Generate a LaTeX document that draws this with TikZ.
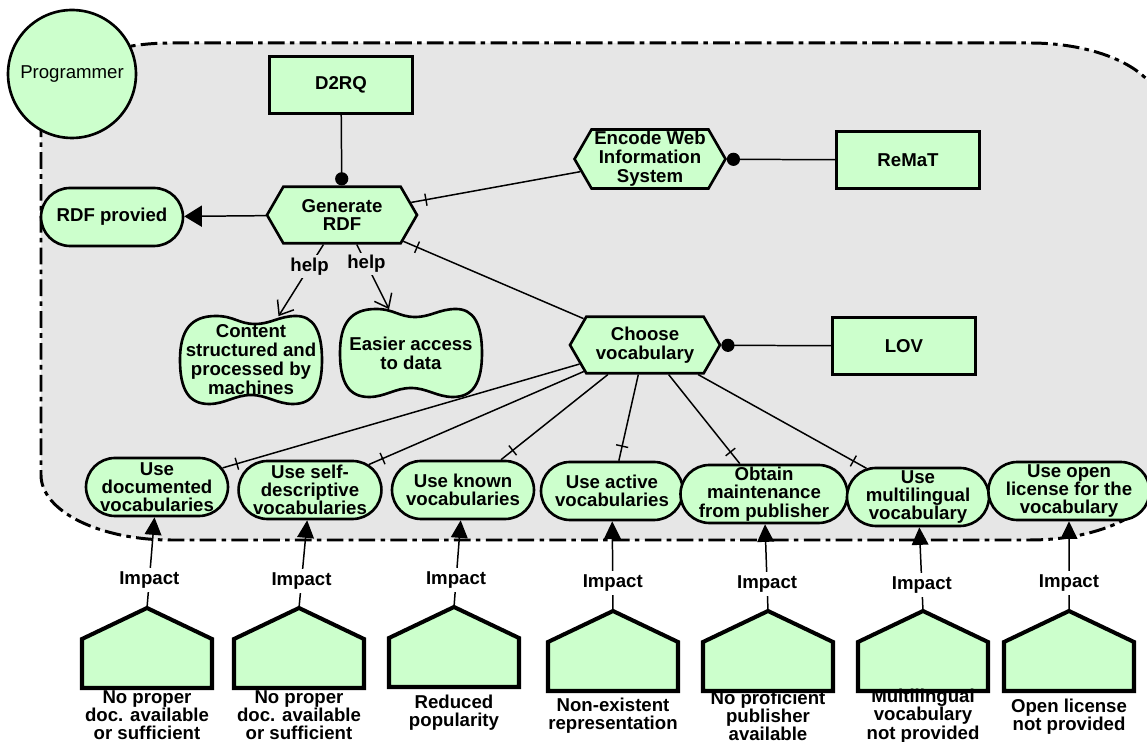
\documentclass[tikz,border=0pt]{standalone}
\usepackage{fontspec}
\setmainfont{Liberation Sans}
\usetikzlibrary{arrows.meta,shapes.misc,shapes.symbols,decorations.markings}
\definecolor{nodegreen}{RGB}{204,255,204}
\definecolor{regiongray}{RGB}{230,230,230}
\newcommand{\pentat}[2]{%
  \draw[pentsty, shift={(#2)}] (-65,80) -- (65,80) -- (65,31) -- (0,0) -- (-65,31) -- cycle;
  \coordinate (#1) at (#2);}
\newcommand{\blobat}[1]{%
  \draw[softsty, shift={(#1)}] (-71,0)
    .. controls (-71,-30) and (-60,-44) .. (-35,-44)
    .. controls (-17,-44) and (-12,-36) .. (4,-36)
    .. controls (20,-36) and (28,-44) .. (45,-44)
    .. controls (62,-44) and (71,-30) .. (71,0)
    .. controls (71,30) and (62,44) .. (42,44)
    .. controls (26,44) and (16,35) .. (0,35)
    .. controls (-16,35) and (-26,44) .. (-42,44)
    .. controls (-62,44) and (-71,30) .. (-71,0) -- cycle;}
\begin{document}
\begin{tikzpicture}[x=0.02cm,y=-0.02cm,
  txt/.style={font=\bfseries\fontsize{10.6}{10.8}\selectfont, align=center},
  boxsty/.style={draw, line width=1.5pt, fill=nodegreen, inner sep=0pt},
  resource/.style={boxsty, rectangle, minimum width=2.86cm, minimum height=1.14cm, txt},
  task/.style={boxsty, signal, signal to=west and east, signal pointer angle=120, minimum width=3cm, minimum height=1.13cm, txt},
  goal/.style={boxsty, rounded rectangle, minimum width=2.84cm, minimum height=1.16cm, font=\bfseries\fontsize{10.6}{10.4}\selectfont, align=center},
  softsty/.style={draw, line width=1.5pt, fill=nodegreen},
  softtext/.style={minimum width=2.84cm, minimum height=1.74cm, inner sep=0pt, txt},
  pentsty/.style={draw, line width=2.3pt, fill=nodegreen, line join=miter},
  pentlbl/.style={inner sep=0pt, font=\bfseries\fontsize{10.6}{10.4}\selectfont, align=center},
  conn/.style={line width=0.85pt},
  dotend/.style={conn, -{Circle[length=7.5pt]}},
  tickstart/.style={conn, postaction={decorate, decoration={markings, mark=at position 8.5pt with {\draw[line width=0.8pt] (0pt,-3.5pt) -- (0pt,3.5pt);}}}},
  helplbl/.style={fill=regiongray, inner sep=1.5pt, font=\bfseries\fontsize{10.6}{12}\selectfont},
  impactlbl/.style={fill=white, inner xsep=2pt, inner ysep=2pt, font=\bfseries\fontsize{10.6}{12}\selectfont},
  impactarrow/.style={conn, -{Triangle[length=10pt,width=9.5pt]}}
]
\useasboundingbox (0,0) rectangle (1147,742);
\clip (0,0) rectangle (1147,742);
% boundary of the actor
\draw[fill=regiongray, line width=1.7pt, dash pattern=on 9.5pt off 3pt on 2.6pt off 3pt]
  (41,108) .. controls (41,72) and (99,43) .. (171,43) -- (1030,43)
  .. controls (1102,43) and (1160,72) .. (1160,108) -- (1160,475)
  .. controls (1160,511) and (1102,540) .. (1030,540) -- (171,540)
  .. controls (99,540) and (41,511) .. (41,475) -- cycle;
% actor
\node[circle, draw, line width=1.5pt, fill=nodegreen, minimum size=2.56cm, inner sep=0pt,
      font=\fontsize{10.6}{12}\selectfont] (prog) at (72,74) {Programmer};
% resources
\node[resource] (d2rq) at (341,85) {D2RQ};
\node[resource] (remat) at (908,160) {ReMaT};
\node[resource] (lov) at (904,346) {LOV};
% tasks
\node[task] (gen) at (342,215) {Generate\\RDF};
\node[task, minimum width=3.02cm, minimum height=1.18cm] (ewis) at (650,159) {Encode Web\\Information\\System};
\node[task] (cv) at (645,345) {Choose\\vocabulary};
% goals
\node[goal] (rdf) at (112,217) {RDF provied};
\node[goal] (g1) at (157,487) {Use\\documented\\vocabularies};
\node[goal] (g2) at (310,490) {Use self-\\descriptive\\vocabularies};
\node[goal] (g3) at (463,490) {Use known\\vocabularies};
\node[goal] (g4) at (612,491) {Use active\\vocabularies};
\node[goal] (g5) at (764,494) {Obtain\\maintenance\\from publisher};
\node[goal] (g6) at (918,497) {Use\\multilingual\\vocabulary};
\node[goal] (g7) at (1069,491) {Use open\\license for the\\vocabulary};
% softgoals
\blobat{251,360}
\node[softtext] (soft1) at (251,360) {Content\\structured and\\processed by\\machines};
\blobat{411,353}
\node[softtext] (soft2) at (411,353) {Easier access\\to data};
% obstacles
\pentat{p1}{147,608}
\pentat{p2}{299,608}
\pentat{p3}{454,607}
\pentat{p4}{613,611}
\pentat{p5}{768,611}
\pentat{p6}{923,611}
\pentat{p7}{1069,611}
\node[pentlbl] (t1) at (147,715) {No proper\\doc. available\\or sufficient};
\node[pentlbl] (t2) at (299,715) {No proper\\doc. available\\or sufficient};
\node[pentlbl] (t3) at (454,713) {Reduced\\popularity};
\node[pentlbl] (t4) at (613,716) {Non-existent\\representation};
\node[pentlbl] (t5) at (768,716) {No proficient\\publisher\\available};
\node[pentlbl] (t6) at (923,716) {Multilingual\\vocabulary\\not provided};
\node[pentlbl] (t7) at (1069,717) {Open license\\not provided};
% connectors
\draw[dotend] (d2rq) -- (gen);
\draw[dotend] (remat) -- (ewis);
\draw[dotend] (lov) -- (cv);
\draw[conn, -{Triangle[length=10pt,width=12pt]}] (gen) -- (rdf);
\draw[tickstart] (gen) -- (ewis);
\draw[tickstart] (gen) -- (cv);
\draw[conn, -{Straight Barb[length=7pt,width=11pt]}] (gen) -- node[helplbl, pos=0.31] (h1) {help} (soft1);
\draw[conn, -{Straight Barb[length=7pt,width=11pt]}] (gen) -- node[helplbl, pos=0.30] (h2) {help} (soft2);
\foreach \g in {g1,g2,g3,g4,g5,g6} \draw[tickstart] (\g) -- (cv);
\foreach \i in {1,...,7} \draw[impactarrow] (p\i) -- node[impactlbl, pos=0.31] (imp\i) {Impact} (g\i);
\end{tikzpicture}
\end{document}
